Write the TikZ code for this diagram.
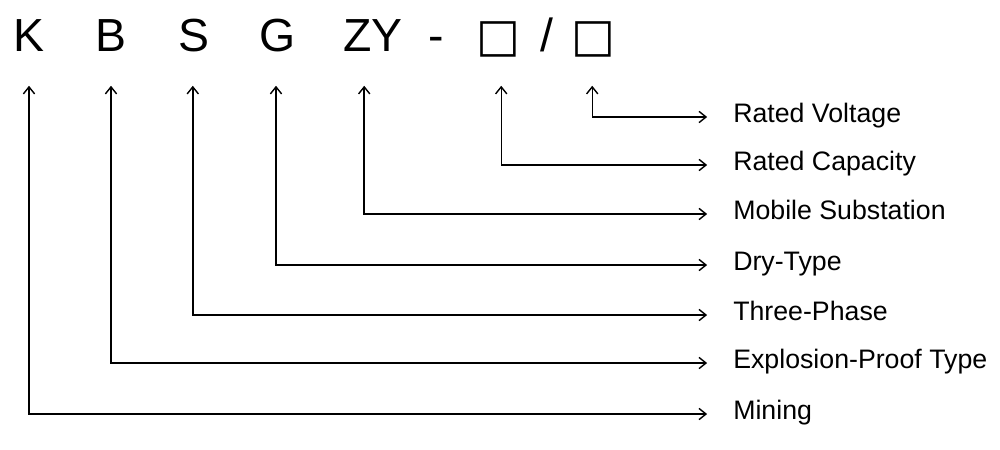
\documentclass[tikz,border=0pt]{standalone}
\usepackage{fontspec}
\setmainfont{Liberation Sans}
\newfontfamily\boxfont{DejaVu Sans}
\usetikzlibrary{arrows.meta}

\begin{document}
\begin{tikzpicture}[x=0.025cm, y=-0.025cm]
    \tikzstyle{code} = [anchor=south, inner sep=0pt, text height=0.716em, text depth=0pt, font=\fontsize{33}{33}\selectfont]
    \tikzstyle{meaning} = [anchor=west, inner sep=0pt, text height=0.716em, text depth=0pt, font=\fontsize{19}{21}\selectfont]
    \tikzstyle{link} = [line width=1pt, {Straight Barb[length=5pt,width=8pt]}-{Straight Barb[length=5pt,width=8pt]}, shorten <=24pt, shorten >=18.4pt]

    \useasboundingbox (0,0) rectangle (1000,449);

    % Type code
    \node [code] (k) at (29,52) {K};
    \node [code] (b) at (111,52) {B};
    \node [code] (s) at (194,52) {S};
    \node [code] (g) at (278,52) {G};
    \node [code] (zy) at (373,52) {ZY};
    \node [code] (dash) at (436,52) {-};
    \node [code] (cap) at (498,52) {\boxfont □};
    \node [code] (slash) at (547,52) {/};
    \node [code] (volt) at (593,52) {\boxfont □};

    % Meanings
    \node [meaning] (lVolt) at (733,117) {Rated Voltage};
    \node [meaning] (lCap) at (733,165) {Rated Capacity};
    \node [meaning] (lMobile) at (733,214) {Mobile Substation};
    \node [meaning] (lDry) at (733,265) {Dry-Type};
    \node [meaning] (lPhase) at (733,315) {Three-Phase};
    \node [meaning] (lProof) at (733,363) {Explosion-Proof Type};
    \node [meaning] (lMining) at (733,414) {Mining};

    % Leaders
    \draw [link] ([xshift=-0.02cm]volt.south) |- (lVolt.west);
    \draw [link] ([xshift=0.08cm]cap.south) |- (lCap.west);
    \draw [link] ([xshift=-0.22cm]zy.south) |- (lMobile.west);
    \draw [link] ([xshift=-0.05cm]g.south) |- (lDry.west);
    \draw [link] ([xshift=-0.03cm]s.south) |- (lPhase.west);
    \draw [link] (b.south) |- (lProof.west);
    \draw [link] (k.south) |- (lMining.west);
\end{tikzpicture}
\end{document}
